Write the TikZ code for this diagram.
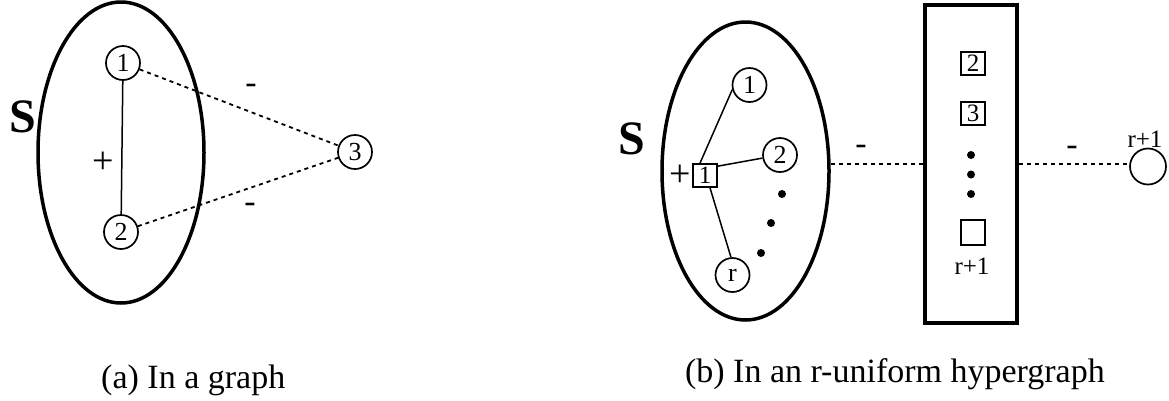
\documentclass[tikz,border=0pt]{standalone}
\usepackage{fontspec}
\setmainfont{Liberation Serif}
\usetikzlibrary{shapes.geometric}
\begin{document}
\begin{tikzpicture}[x=1pt,y=-1pt,
  vtx/.style={circle,draw,line width=1.7pt,minimum size=34pt,inner sep=0pt,font=\fontsize{26}{26}\selectfont},
  sqbox/.style={rectangle,draw,line width=1.7pt,minimum width=24pt,minimum height=23pt,inner sep=0pt,font=\fontsize{25}{25}\selectfont},
  setell/.style={ellipse,draw,line width=3.5pt,inner sep=0pt},
  edgeline/.style={line width=1.5pt},
  negline/.style={line width=1.8pt,dash pattern=on 4pt off 4pt},
  bigdot/.style={circle,fill,inner sep=0pt,minimum size=8pt},
  signlbl/.style={inner sep=0pt,font=\fontsize{38}{38}\selectfont},
  minuslbl/.style={inner sep=0pt,font=\fontsize{34}{34}\selectfont},
  setlbl/.style={inner sep=0pt,font=\fontsize{48}{48}\selectfont\bfseries},
  smalllbl/.style={inner sep=0pt,font=\fontsize{25}{25}\selectfont},
  captxt/.style={inner sep=0pt,font=\fontsize{34}{34}\selectfont}]
\useasboundingbox (0,0) rectangle (1169,400);

% ---------- (a) ----------
\node[setell,minimum width=166pt,minimum height=301pt] (SA) at (121,152.5) {};
\node[setlbl] (SAl) at (23,117) {S};
\node[vtx] (a1) at (123,63) {1};
\node[vtx] (a2) at (121,232) {2};
\node[vtx] (a3) at (355,152) {3};
\draw[edgeline] (a1) -- (a2);
\draw[negline] (a1) -- (a3);
\draw[negline] (a2) -- (a3);
\node[signlbl] (pa) at (103,163) {+};
\node[minuslbl] (ma1) at (251,89) {-};
\node[minuslbl] (ma2) at (250,208) {-};
\node[captxt,anchor=base west] (capa) at (101,388) {(a) In a graph};

% ---------- (b) ----------
\node[setell,minimum width=167pt,minimum height=298pt] (SB) at (745.5,171) {};
\node[setlbl] (SBl) at (631.5,139) {S};
\node[sqbox] (s1) at (705,175.5) {1};
\node[signlbl] (pb) at (680,176) {+};
\node[vtx] (b1) at (749.5,85) {1};
\node[vtx] (b2) at (780,155) {2};
\node[vtx] (br) at (732.5,275) {r};
\draw[edgeline] ([xshift=-5pt]s1.north) -- (b1.195);
\draw[edgeline] ([yshift=-3pt]s1.north east) -- (b2.190);
\draw[edgeline] ([xshift=5pt]s1.south) -- (br.95);
\node[bigdot] (d1) at (782,194) {};
\node[bigdot] (d2) at (771,223) {};
\node[bigdot] (d3) at (761,253) {};

\node[rectangle,draw,line width=3.2pt,minimum width=92pt,minimum height=318pt,inner sep=0pt] (R) at (971,164) {};
\node[sqbox] (q2) at (973,63.5) {2};
\node[sqbox] (q3) at (973,113.5) {3};
\node[bigdot] (e1) at (971,155) {};
\node[bigdot] (e2) at (971,174.5) {};
\node[bigdot] (e3) at (971,194) {};
\node[sqbox,minimum height=25pt] (qr) at (973,232.5) {};
\node[smalllbl] (qrl) at (972,266) {r+1};

\node[circle,draw,line width=1.7pt,minimum size=36pt,inner sep=0pt] (C) at (1148,166.5) {};
\node[smalllbl] (Cl) at (1145,139) {r+1};

\draw[negline] (SB.east |- R.west) -- (R.west);
\draw[negline] (R.east) -- (R.east -| C.west);
\node[minuslbl] (mb1) at (861,150) {-};
\node[minuslbl] (mb2) at (1072,151) {-};

\node[captxt,anchor=base east] (capb) at (1105,382) {(b) In an r-uniform hypergraph};
\end{tikzpicture}
\end{document}
